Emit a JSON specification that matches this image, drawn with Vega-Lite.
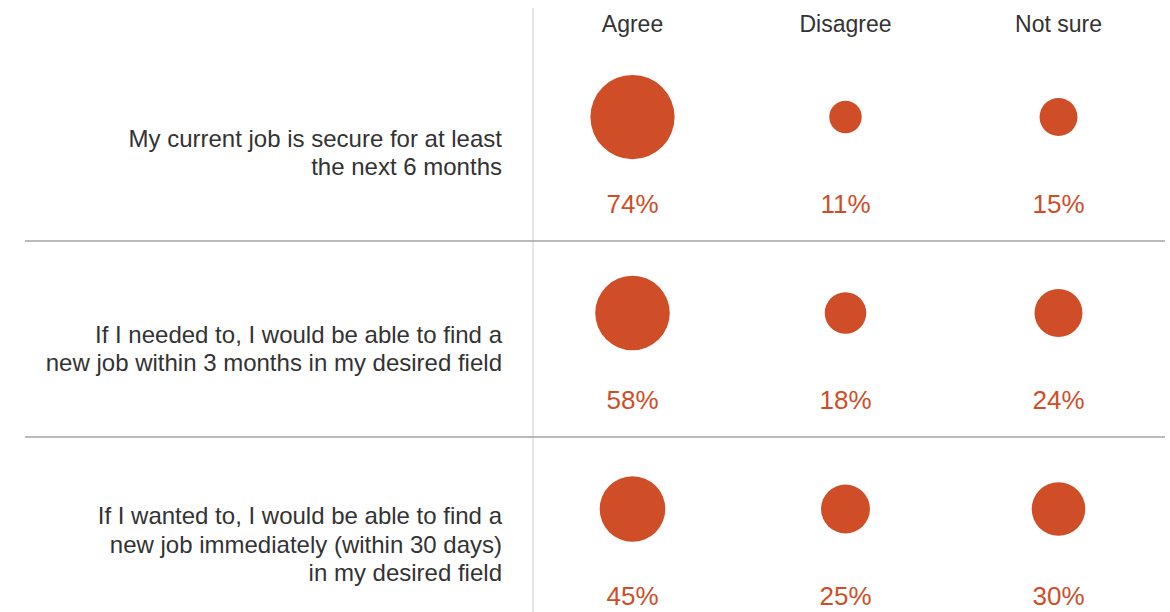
{
  "$schema": "https://vega.github.io/schema/vega-lite/v6.json",
  "width": 1140,
  "height": 684,
  "autosize": {"type": "none"},
  "padding": {"left": 25, "top": 8, "right": 0, "bottom": 0},
  "background": "white",
  "config": {
    "view": {"stroke": null},
    "font": "Liberation Sans",
    "axis": {"domain": false, "ticks": false, "grid": false}
  },
  "datasets": {
    "responses": [
      {"q": "Q1", "answer": "Agree", "share": 0.74},
      {"q": "Q1", "answer": "Disagree", "share": 0.11},
      {"q": "Q1", "answer": "Not sure", "share": 0.15},
      {"q": "Q2", "answer": "Agree", "share": 0.58},
      {"q": "Q2", "answer": "Disagree", "share": 0.18},
      {"q": "Q2", "answer": "Not sure", "share": 0.24},
      {"q": "Q3", "answer": "Agree", "share": 0.45},
      {"q": "Q3", "answer": "Disagree", "share": 0.25},
      {"q": "Q3", "answer": "Not sure", "share": 0.30}
    ],
    "questions": [
      {"q": "Q1", "statement": "My current job is secure for at least\nthe next 6 months"},
      {"q": "Q2", "statement": "If I needed to, I would be able to find a\nnew job within 3 months in my desired field"},
      {"q": "Q3", "statement": "If I wanted to, I would be able to find a\nnew job immediately (within 30 days)\nin my desired field"}
    ]
  },
  "layer": [
    {
      "data": {"name": "questions"},
      "mark": {"type": "rule", "color": "#e6e6e6", "strokeWidth": 2, "xOffset": 7},
      "encoding": {
        "x": {"datum": "Agree", "type": "nominal", "bandPosition": 0,
          "scale": {"type": "band", "domain": ["Statement", "Agree", "Disagree", "Not sure"], "paddingInner": 0, "paddingOuter": 0.676, "align": 1},
          "axis": {"orient": "top", "title": null, "labelAngle": 0, "labelAlign": "center", "labelExpr": "datum.value == 'Statement' ? '' : datum.label", "labelFontSize": 23, "labelColor": "#333333", "labelFont": "Liberation Sans", "labelPadding": -16, "labelBaseline": "middle"}
        }
      }
    },
    {
      "data": {"name": "questions"},
      "transform": [{"filter": "datum.q != 'Q1'"}],
      "mark": {"type": "rule", "color": "#a3a3a3", "strokeWidth": 1.5, "yOffset": -11},
      "encoding": {
        "y": {"field": "q", "type": "nominal", "bandPosition": 0,
          "scale": {"type": "band", "domain": ["Q1", "Q2", "Q3"], "paddingInner": 0, "paddingOuter": 0.245}, "axis": null}
      }
    },
    {
      "data": {"name": "questions"},
      "transform": [{"calculate": "length(split(datum.statement, '\\n'))", "as": "lines"}],
      "mark": {"type": "text", "align": "right", "baseline": "middle", "dx": -24, "fontSize": 24, "lineBreak": "\n", "lineHeight": 28.5, "color": "#333333"},
      "encoding": {
        "x": {"datum": "Statement", "type": "nominal", "bandPosition": 1},
        "y": {"field": "q", "type": "nominal", "axis": null},
        "yOffset": {"field": "lines", "type": "quantitative", "scale": {"type": "linear", "domain": [1, 3], "range": [98, 69.5]}},
        "text": {"field": "statement", "type": "nominal"}
      }
    },
    {
      "data": {"name": "responses"},
      "mark": {"type": "point", "shape": "circle", "filled": true, "opacity": 1, "color": "#cf4e28", "yOffset": -37},
      "encoding": {
        "x": {"field": "answer", "type": "nominal"},
        "y": {"field": "q", "type": "nominal", "axis": null},
        "size": {"field": "share", "type": "quantitative", "scale": {"type": "linear", "domain": [0, 1], "range": [0, 9580]}, "legend": null}
      }
    },
    {
      "data": {"name": "responses"},
      "mark": {"type": "text", "align": "center", "baseline": "middle", "dy": 51, "fontSize": 26, "color": "#cf4e28"},
      "encoding": {
        "x": {"field": "answer", "type": "nominal"},
        "y": {"field": "q", "type": "nominal", "axis": null},
        "text": {"field": "share", "type": "quantitative", "format": ".0%"}
      }
    }
  ]
}
